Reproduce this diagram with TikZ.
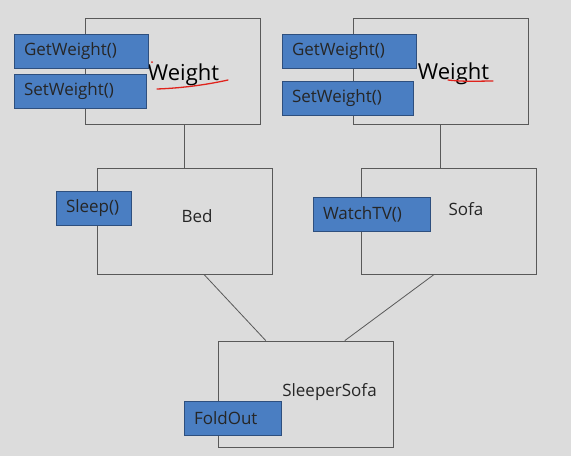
\documentclass[tikz,border=0pt]{standalone}
\usepackage{fontspec}
\setmainfont{Open Sans}
\definecolor{methblue}{HTML}{4A7EC2}
\definecolor{methedge}{HTML}{2E4F7E}
\definecolor{slidebg}{HTML}{DCDCDC}
\definecolor{inkred}{HTML}{E0231C}

\begin{document}
\begin{tikzpicture}[x=1pt, y=-1pt,
    cls/.style={draw=black!65, line width=0.8pt, minimum width=175pt,
      minimum height=106pt, inner sep=0pt},
    meth/.style={draw=methedge, fill=methblue, line width=0.9pt,
      inner xsep=10pt, inner ysep=0pt, minimum height=34pt, align=left,
      text=black!85, font=\fontsize{17}{20}\selectfont},
    lbl/.style={anchor=base, text=black!85, font=\fontsize{17}{20}\selectfont}]
  \fill[slidebg] (0,0) rectangle (571,456);
  \useasboundingbox (0,0) rectangle (571,456);
  % class boxes
  \foreach \n/\x/\y in {wL/173/71, wR/440.5/71, bed/184.5/221,
      sofa/448.5/221, ss/306/394}
    \node[cls] (\n) at (\x,\y) {};
  % links
  \draw[black!65, line width=0.8pt] (bed.north |- wL.south) -- (bed.north);
  \draw[black!65, line width=0.8pt] (wR.south) -- (wR.south |- sofa.north);
  \draw[black!65, line width=0.8pt] (bed.-70) -- (ss.127);
  \draw[black!65, line width=0.8pt] (sofa.-105) -- (ss.54);
  % class names
  \node[lbl, font=\fontsize{22}{26}\selectfont, text=black] (tL) at (183.5,80) {Weight};
  \node[lbl, font=\fontsize{22}{26}\selectfont, text=black] (tR) at (453.5,79) {Weight};
  \node[lbl] (tbed) at (197,222.5) {Bed};
  \node[lbl] (tsofa) at (466,215) {Sofa};
  \node[lbl] (tss) at (329.5,396) {SleeperSofa};
  % methods
  \foreach \n/\x/\y/\w/\t in {getL/81/51/114/{GetWeight()},
      setL/80/91/112/{SetWeight()}, getR/349/51/114/{GetWeight()},
      setR/347.5/98.5/111/{SetWeight()}, sleep/93.5/208.5/55/{Sleep()},
      watch/371.5/214/97/{WatchTV()}, fold/232.5/418.5/77/{FoldOut}}
    \node[meth, text width=\w pt] (\n) at (\x,\y) {\t};
  % pen marks
  \draw[inkred, line width=1.3pt, line cap=round] (157,89)
    .. controls (185,88) and (210,84) .. (228,80);
  \draw[inkred, line width=1.3pt, line cap=round] (448,80)
    .. controls (465,82) and (480,81) .. (493,81);
  \fill[inkred] (152,62) circle (1pt);
\end{tikzpicture}
\end{document}
